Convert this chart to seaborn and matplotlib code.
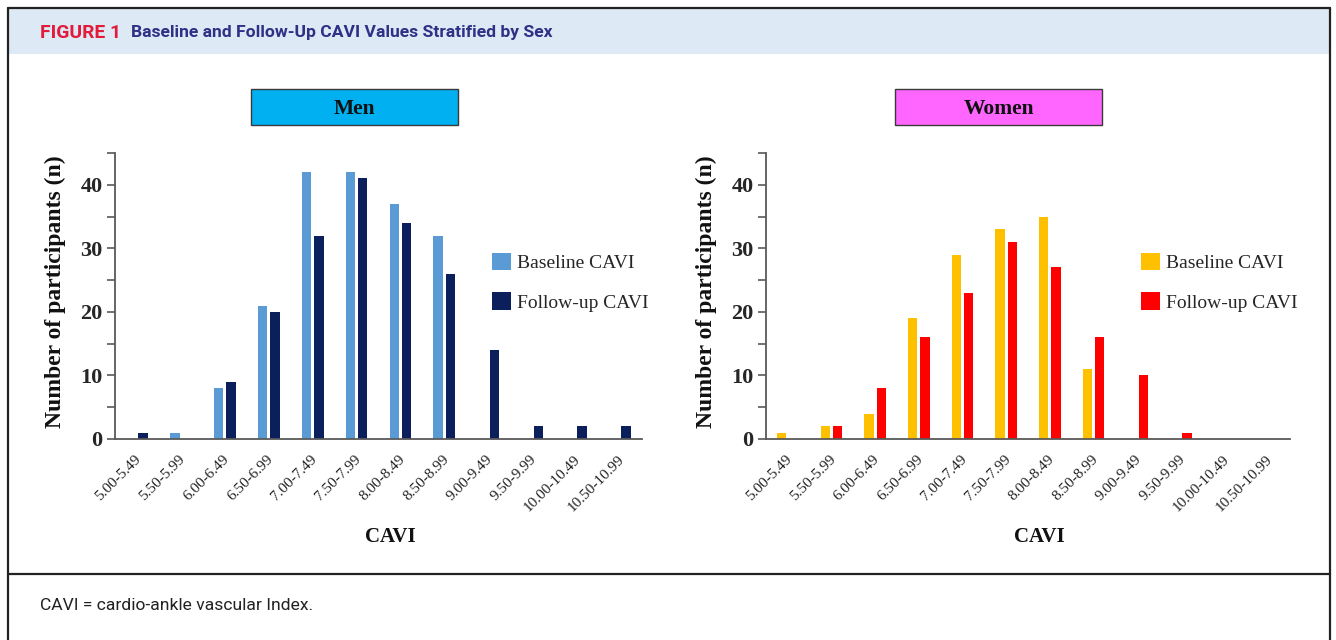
import matplotlib
matplotlib.use("Agg")
import matplotlib.pyplot as plt
import matplotlib.transforms as mtransforms
from matplotlib.patches import Rectangle
from matplotlib.lines import Line2D
import seaborn as sns
import pandas as pd

# ---- data -------------------------------------------------------------
cavi_bins = ["5.00-5.49", "5.50-5.99", "6.00-6.49", "6.50-6.99", "7.00-7.49",
             "7.50-7.99", "8.00-8.49", "8.50-8.99", "9.00-9.49", "9.50-9.99",
             "10.00-10.49", "10.50-10.99"]
men_baseline = [0, 1, 8, 21, 42, 42, 37, 32, 0, 0, 0, 0]
men_followup = [1, 0, 9, 20, 32, 41, 34, 26, 14, 2, 2, 2]
women_baseline = [1, 2, 4, 19, 29, 33, 35, 11, 0, 0, 0, 0]
women_followup = [0, 2, 8, 16, 23, 31, 27, 16, 10, 1, 0, 0]
series_names = ["Baseline CAVI", "Follow-up CAVI"]
y_major = [0, 10, 20, 30, 40]
y_minor = [5, 15, 25, 35, 45]

men_colors = ["#5b9bd5", "#0a1f5c"]
women_colors = ["#ffc000", "#ff0000"]

# ---- figure -----------------------------------------------------------
W, H = 1336, 640
sns.set_theme(style="white")
plt.rcParams["font.family"] = ["Liberation Serif", "DejaVu Serif"]
fig = plt.figure(figsize=(W / 100, H / 100), dpi=100)
fig.patch.set_facecolor("white")


def px_box(x0, y0, x1, y1):
    """Pixel box (top-left origin) -> figure fraction [l, b, w, h]."""
    return [x0 / W, 1 - y1 / H, (x1 - x0) / W, (y1 - y0) / H]


def fx(x):
    return x / W


def fy(y):
    return 1 - y / H


def fit_text(t, target_px):
    """Scale a text's font size so its rendered width equals target_px."""
    r = fig.canvas.get_renderer()
    w = t.get_window_extent(renderer=r).width
    t.set_fontsize(t.get_fontsize() * target_px / w)


# header band, frame and separator
fig.add_artist(Rectangle((fx(8), fy(54)), fx(1330) - fx(8), fy(9) - fy(54),
                         transform=fig.transFigure, facecolor="#dde9f5",
                         edgecolor="none", zorder=0))
frame_kw = dict(transform=fig.transFigure, color="#222222", lw=1.6, zorder=5)
fig.add_artist(Line2D([fx(8), fx(1330)], [fy(8), fy(8)], **frame_kw))
fig.add_artist(Line2D([fx(8), fx(8)], [fy(8), fy(641)], **frame_kw))
fig.add_artist(Line2D([fx(1330), fx(1330)], [fy(8), fy(641)], **frame_kw))
fig.add_artist(Line2D([fx(8), fx(1330)], [fy(574), fy(574)], **frame_kw))

sans_narrow = ["Liberation Sans Narrow", "Roboto", "DejaVu Sans"]
t1 = fig.text(fx(40), fy(33), "FIGURE 1", color="#e31b3b", fontweight="bold",
              family=sans_narrow, fontsize=11, va="center", ha="left")
t2 = fig.text(fx(131), fy(33), "Baseline and Follow-Up CAVI Values Stratified by Sex",
              color="#2e3185", fontweight="bold", family=sans_narrow,
              fontsize=11, va="center", ha="left")
t3 = fig.text(fx(40), fy(606), "CAVI = cardio-ankle vascular Index.",
              color="#222222", family=sans_narrow, fontsize=11,
              va="center", ha="left")
fig.canvas.draw()
fit_text(t1, 81)
fit_text(t2, 421)
fit_text(t3, 272)


def draw_panel(box, title_box, title, title_color, baseline, followup, colors):
    ax = fig.add_axes(px_box(*box))
    ax_w = box[2] - box[0]
    ax_h = box[3] - box[1]
    df = pd.DataFrame({
        "CAVI": cavi_bins * 2,
        "Count": baseline + followup,
        "Visit": [series_names[0]] * len(cavi_bins) + [series_names[1]] * len(cavi_bins),
    })
    sns.barplot(data=df, x="CAVI", y="Count", hue="Visit", order=cavi_bins,
                hue_order=series_names, palette=colors, saturation=1,
                width=0.56, gap=0.22, linewidth=0, errorbar=None, ax=ax)
    ax.set_xlim(-0.5, len(cavi_bins) - 0.5)
    ax.set_ylim(0, 45)

    for s in ("top", "right"):
        ax.spines[s].set_visible(False)
    for s in ("left", "bottom"):
        ax.spines[s].set_color("#595959")
        ax.spines[s].set_linewidth(1.3)

    ax.set_yticks(y_major)
    ax.set_yticks(y_minor, minor=True)
    ax.set_yticklabels([str(v) for v in y_major], fontweight="bold", fontsize=16)
    ax.tick_params(axis="y", which="both", direction="out", length=6,
                   width=1.2, color="#595959", left=True, pad=3)
    ax.tick_params(axis="x", length=0, pad=10)
    ax.set_xticks(range(len(cavi_bins)))
    ax.set_xticklabels(cavi_bins, rotation=45, ha="right", fontsize=11,
                       color="#222222")
    shift = mtransforms.ScaledTranslation(7 / 100, 0, fig.dpi_scale_trans)
    for lab in ax.get_xticklabels():
        lab.set_transform(lab.get_transform() + shift)

    ax.set_ylabel("Number of participants (n)", fontweight="bold", fontsize=17,
                  color="#111111")
    ax.yaxis.label.set_va("center")
    ax.yaxis.set_label_coords(-60 / ax_w, 0.515)
    ax.set_xlabel("CAVI", fontweight="bold", fontsize=15, color="#111111")
    ax.xaxis.label.set_va("center")
    ax.xaxis.set_label_coords(0.522, (box[3] - 537) / ax_h)

    handles, labels = ax.get_legend_handles_labels()
    ax.legend(handles, labels, loc="upper left", bbox_to_anchor=(0.715, 0.652),
              frameon=False, fontsize=14, handlelength=1.0, handleheight=1.0,
              handletextpad=0.3, labelspacing=1.05, borderpad=0,
              borderaxespad=0)

    # panel title box
    x0, y0, x1, y1 = title_box
    fig.add_artist(Rectangle((fx(x0), fy(y1)), fx(x1) - fx(x0), fy(y0) - fy(y1),
                             transform=fig.transFigure, facecolor=title_color,
                             edgecolor="#3a3a3a", lw=1.0))
    fig.text(fx((x0 + x1) / 2), fy((y0 + y1) / 2 + 1.5), title, ha="center",
             va="center", fontweight="bold", fontsize=15.5, color="#111111")
    return ax


draw_panel((115, 153, 642, 439), (251, 89, 458, 125), "Men", "#00b0f0",
           men_baseline, men_followup, men_colors)
draw_panel((766, 153, 1290, 439), (895, 89, 1102, 125), "Women", "#ff66ff",
           women_baseline, women_followup, women_colors)

fig.savefig("out.png", dpi=100, facecolor="white")
